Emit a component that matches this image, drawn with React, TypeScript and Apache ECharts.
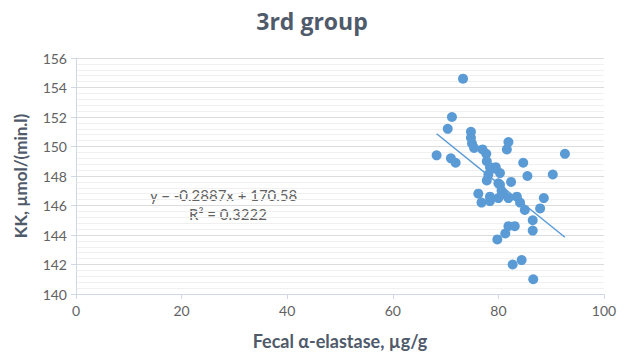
import React, { useEffect, useRef } from "react";
import * as echarts from "echarts";

const titleText = "3rd group";
const xAxisName = "Fecal α-elastase, µg/g";
const yAxisName = "KK, µmol/(min.l)";

const elastase: number[] = [
  73.3, 71.2, 70.4, 68.3, 71.0, 71.9, 74.8, 74.8, 75.0, 75.4,
  77.0, 77.7, 77.8, 81.9, 81.6, 84.7, 92.6, 79.4, 80.3, 85.5,
  90.3, 82.4, 77.8, 80.0, 76.2, 76.8, 78.4, 78.4, 80.0, 80.3,
  80.6, 81.9, 83.5, 84.1, 85.0, 87.9, 88.6, 86.5, 86.5, 81.9,
  83.1, 81.3, 79.8, 84.4, 82.7, 86.6, 78.1, 78.4, 79.5, 80.9,
];
const kk: number[] = [
  154.6, 152.0, 151.2, 149.4, 149.2, 148.9, 151.0, 150.6, 150.2, 149.9,
  149.8, 149.5, 149.0, 150.3, 149.8, 148.9, 149.5, 148.5, 148.2, 148.0,
  148.1, 147.6, 147.7, 147.5, 146.8, 146.2, 146.6, 146.3, 146.5, 147.4,
  147.0, 146.5, 146.6, 146.2, 145.7, 145.8, 146.5, 145.0, 144.3, 144.6,
  144.6, 144.1, 143.7, 142.3, 142.0, 141.0, 148.1, 148.6, 148.6, 146.8,
];

const slope = -0.2887;
const intercept = 170.58;
const equationLabel = "y = -0.2887x + 170.58";
const r2Label = "R² = 0.3222";

const FONT = "Lato, 'Open Sans', sans-serif";
const TITLE_FONT = "'Open Sans', Lato, sans-serif";
const GREY = "#626262";
const SLATE = "#4F5A6A";
const BLUE = "#5B9BD5";

export default function App() {
  const ref = useRef<HTMLDivElement>(null);
  useEffect(() => {
    document.body.style.margin = "0";
    if (!ref.current) return;
    const chart = echarts.init(ref.current, undefined, { renderer: "svg" });
    const points = elastase.map((x, i) => [x, kk[i]]);
    const xMin = Math.min(...elastase);
    const xMax = Math.max(...elastase);
    const trend = [
      [xMin, slope * xMin + intercept],
      [xMax, slope * xMax + intercept],
    ];
    chart.setOption({
      animation: false,
      backgroundColor: "#ffffff",
      textStyle: { fontFamily: FONT },
      title: {
        text: titleText,
        left: "center",
        top: 4,
        textStyle: { fontFamily: TITLE_FONT, fontSize: 23, fontWeight: "bold", color: SLATE },
      },
      grid: { left: 76, right: 20, top: 58, bottom: 62, containLabel: false },
      xAxis: {
        type: "value",
        min: 0,
        max: 100,
        interval: 20,
        name: xAxisName,
        nameLocation: "middle",
        nameGap: 38,
        nameTextStyle: { fontFamily: FONT, fontSize: 18, fontWeight: "bold", color: SLATE },
        axisLine: { show: true, lineStyle: { color: "#D0D7E5", width: 1 } },
        axisTick: { show: true, length: 5, lineStyle: { color: "#D0D7E5" } },
        axisLabel: { fontFamily: FONT, fontSize: 14, color: GREY, margin: 9 },
        splitLine: { show: false },
      },
      yAxis: {
        type: "value",
        min: 140,
        max: 156,
        interval: 2,
        name: yAxisName,
        nameLocation: "middle",
        nameGap: 47,
        nameRotate: 90,
        nameTextStyle: { fontFamily: FONT, fontSize: 17, fontWeight: "bold", color: SLATE },
        axisLine: { show: true, lineStyle: { color: "#D0D7E5", width: 1 } },
        axisTick: { show: true, length: 5, lineStyle: { color: "#D0D7E5" } },
        axisLabel: { fontFamily: FONT, fontSize: 14, color: GREY, margin: 9 },
        splitLine: { show: true, lineStyle: { color: "#DCDCDC", width: 1 } },
        minorTick: { show: false, splitNumber: 5 },
        minorSplitLine: { show: true, lineStyle: { color: "#F0F0F0", width: 1 } },
      },
      series: [
        {
          type: "scatter",
          data: points,
          symbol: "circle",
          symbolSize: 10,
          itemStyle: { color: BLUE, opacity: 1 },
          z: 3,
        },
        {
          type: "line",
          data: trend,
          symbol: "none",
          lineStyle: { color: BLUE, width: 1.5 },
          z: 4,
        },
      ],
      graphic: [
        {
          type: "text",
          left: 150,
          top: 187,
          style: { text: equationLabel, fontFamily: FONT, fontSize: 15, fill: GREY },
        },
        {
          type: "text",
          left: 189,
          top: 206,
          style: { text: r2Label, fontFamily: FONT, fontSize: 15, fill: GREY },
        },
      ],
    });
    return () => chart.dispose();
  }, []);
  return <div ref={ref} style={{ width: 624, height: 356 }} />;
}
